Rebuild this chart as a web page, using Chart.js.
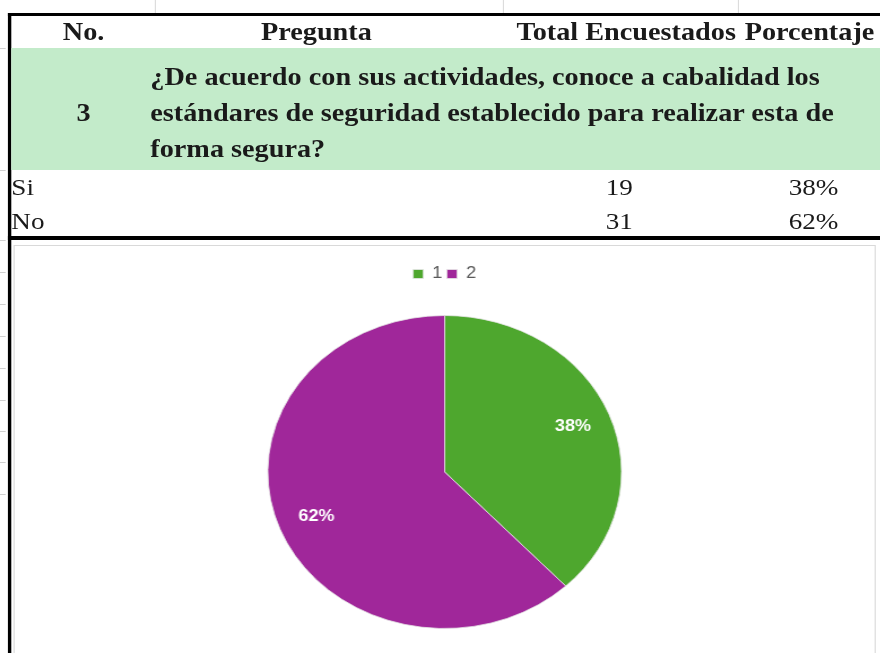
<!DOCTYPE html>
<html lang="es">
<head>
    <meta charset="UTF-8">
    <title>Pregunta 3</title>
    <script src="https://cdn.jsdelivr.net/npm/chart.js"></script>
    <style>
    html, body { margin: 0; padding: 0; background: #fff; overflow: hidden; }
    #page {
        position: relative;
        width: 779px;
        height: 653px;
        transform: scaleX(1.13);
        transform-origin: 0 0;
        font-family: "Liberation Serif", "Times New Roman", serif;
        color: #1a1a1a;
    }
    .abs { position: absolute; white-space: nowrap; }
    .grid { position: absolute; top: 0; width: 1px; height: 13px; background: #dcdcdc; }
    .tick { position: absolute; left: 0; width: 5px; height: 1px; background: #d0d0d0; }
    .hdr { font-weight: bold; font-size: 25px; line-height: 32px; top: 16px; }
    .q { font-weight: bold; font-size: 25px; line-height: 36px; }
    .row { font-size: 24px; line-height: 33px; }
    #chartBox {
        position: absolute;
        left: 12px; top: 245px;
        width: 763px; height: 410px;
        border: 1px solid #d9d9d9;
        box-sizing: border-box;
    }
    </style>
</head>
<body>
<div id="page">
    <div class="grid" style="left:137px"></div>
    <div class="grid" style="left:445px"></div>
    <div class="grid" style="left:653px"></div>
    <div id="ticks"></div>

    <!-- frame -->
    <div class="abs" style="left:7px; top:13px; width:772px; height:3px; background:#000"></div>
    <div class="abs" style="left:7px; top:13px; width:3px; height:640px; background:#000"></div>
    <div class="abs" style="left:10px; top:48px; width:769px; height:122px; background:#c3ebca"></div>
    <div class="abs" style="left:7px; top:236px; width:772px; height:4px; background:#000"></div>

    <div id="hdrRow"></div>
    <div id="qRow"></div>
    <div id="ansRows"></div>

    <div id="chartBox"><canvas id="chartPie"></canvas></div>
</div>

<script>
    // table content
    const headers = ['No.', 'Pregunta', 'Total Encuestados', 'Porcentaje'];
    const questionNo = '3';
    const questionLines = [
        '¿De acuerdo con sus actividades, conoce a cabalidad los',
        'estándares de seguridad establecido para realizar esta de',
        'forma segura?'
    ];
    const answers = ['Si', 'No'];
    const totals = [19, 31];

    // chart content
    const pieLabels = ['1', '2'];
    const pieValues = [19, 31];
    const pieColors = ['#4ea72e', '#a0279a'];

    const sum = totals.reduce((a, b) => a + b, 0);
    const pct = v => Math.round(v / sum * 100) + '%';

    // faint sheet row marks on the left edge
    document.getElementById('ticks').innerHTML = [48, 170, 240, 272, 304, 336, 368, 400, 431, 462, 494]
        .map(y => `<div class="tick" style="top:${y}px"></div>`).join('');

    // header row
    const hdrPos = [
        'left:48px; width:52px; text-align:center',
        'left:230px; width:100px; text-align:center',
        'left:457px',
        'left:659px'
    ];
    document.getElementById('hdrRow').innerHTML = headers
        .map((h, i) => `<div class="abs hdr" style="${hdrPos[i]}">${h}</div>`).join('');

    // question row
    let qHtml = `<div class="abs q" style="left:60px; width:28px; text-align:center; top:95px">${questionNo}</div>`;
    questionLines.forEach((line, i) => {
        qHtml += `<div class="abs q" style="left:133px; top:${59 + i * 36}px">${line}</div>`;
    });
    document.getElementById('qRow').innerHTML = qHtml;

    // answer rows
    let aHtml = '';
    answers.forEach((a, i) => {
        const top = 171 + i * 34;
        aHtml += `<div class="abs row" style="left:10px; top:${top}px">${a}</div>`;
        aHtml += `<div class="abs row" style="left:460px; width:100px; text-align:right; top:${top}px">${totals[i]}</div>`;
        aHtml += `<div class="abs row" style="left:640px; width:102px; text-align:right; top:${top}px">${pct(totals[i])}</div>`;
    });
    document.getElementById('ansRows').innerHTML = aHtml;

    // extra room under the legend
    const legendGap = {
        id: 'legendGap',
        beforeInit(chart) {
            const fit = chart.legend.fit;
            chart.legend.fit = function () {
                fit.bind(chart.legend)();
                this.height += 23;
            };
        }
    };

    // percentage labels inside slices
    const sliceLabels = {
        id: 'sliceLabels',
        afterDatasetsDraw(chart) {
            const ctx = chart.ctx;
            const meta = chart.getDatasetMeta(0);
            const data = chart.data.datasets[0].data;
            const total = data.reduce((a, b) => a + b, 0);
            ctx.save();
            ctx.fillStyle = '#fff';
            ctx.font = 'bold 16px "Liberation Sans", Arial, sans-serif';
            ctx.textAlign = 'center';
            ctx.textBaseline = 'middle';
            meta.data.forEach((arc, i) => {
                const p = arc.getProps(['x', 'y', 'startAngle', 'endAngle', 'outerRadius'], true);
                const mid = (p.startAngle + p.endAngle) / 2;
                const r = p.outerRadius * 0.78;
                ctx.fillText(Math.round(data[i] / total * 100) + '%',
                    p.x + Math.cos(mid) * r, p.y + Math.sin(mid) * r);
            });
            ctx.restore();
        }
    };

    new Chart(document.getElementById('chartPie'), {
        type: 'pie',
        data: {
            labels: pieLabels,
            datasets: [{
                data: pieValues,
                backgroundColor: pieColors,
                borderColor: 'rgba(230,230,230,0.8)',
                borderWidth: 1
            }]
        },
        options: {
            responsive: true,
            maintainAspectRatio: false,
            animation: false,
            layout: { padding: { top: 16, bottom: 25 } },
            plugins: {
                legend: {
                    position: 'top',
                    labels: {
                        boxWidth: 9,
                        boxHeight: 9,
                        padding: 4,
                        color: '#595959',
                        font: { size: 16, family: '"Liberation Sans", Arial, sans-serif' }
                    }
                },
                tooltip: { enabled: false }
            }
        },
        plugins: [legendGap, sliceLabels]
    });
</script>
</body>
</html>
